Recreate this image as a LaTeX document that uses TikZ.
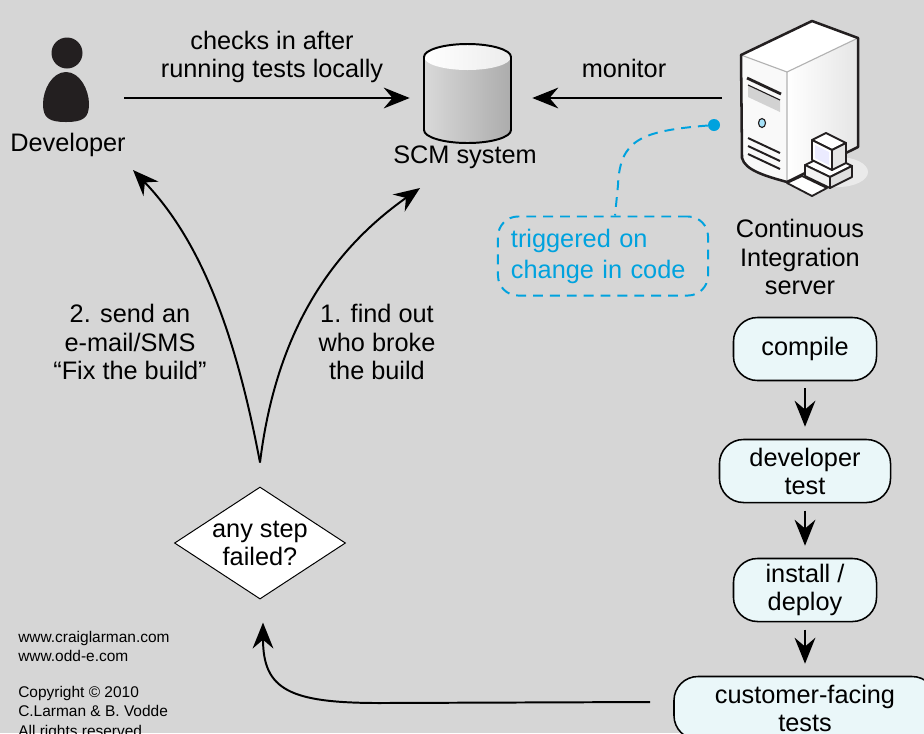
\documentclass[tikz,border=0pt]{standalone}
\usepackage{fontspec}
\setmainfont{Liberation Sans}
\usetikzlibrary{arrows.meta,shapes.geometric}
\definecolor{bg}{RGB}{214,214,214}
\definecolor{ink}{RGB}{35,31,32}
\definecolor{trigblue}{RGB}{0,162,222}
\definecolor{stepfill}{RGB}{234,247,249}
\tikzset{>={Stealth[length=0.65cm,width=0.52cm,inset=0.22cm]}}
\tikzset{
	link/.style={->, line width=1.4pt},
	stepbox/.style={draw, line width=1.1pt, fill=stepfill, rounded corners=0.6cm, minimum height=1.575cm, align=center},
	decision/.style={diamond, draw, fill=white, line width=0.7pt, aspect=1.53, minimum width=4.275cm, minimum height=2.8cm, inner sep=0pt, align=center},
	note/.style={draw=trigblue, text=trigblue, line width=1.4pt, dash pattern=on 7pt off 5pt, rounded corners=0.5cm, align=left, inner xsep=0.325cm, font=\fontsize{18}{22}\selectfont},
}

\begin{document}
\begin{tikzpicture}[x=0.025cm, y=-0.025cm, font=\fontsize{18}{20}\selectfont]
	\fill [bg] (0,0) rectangle (924,733);
	\useasboundingbox (0,0) rectangle (924,733);

	% developer
	\fill [ink] (67,53) circle [radius=15.5];
	\fill [ink] (66,72) .. controls (80,72) and (89,90) .. (89,104) .. controls (89,118) and (83,122) .. (66,122) .. controls (49,122) and (43,118) .. (43,104) .. controls (43,90) and (52,72) .. (66,72) -- cycle;
	\node (dev) [minimum width=2.9cm, minimum height=2cm] at (66,98) {};
	\node (devlabel) at (68,145) {Developer};

	% SCM cylinder
	\shade [left color=gray!30, middle color=white, right color=gray!65] (424,57) -- (424,130) arc (180:0:43.5 and 13) -- (511,57) arc (0:-180:43.5 and 13) -- cycle;
	\shade [left color=white, right color=gray!15] (467.5,57) ellipse [x radius=43.5, y radius=13];
	\draw [line width=1.4pt] (424,57) -- (424,130) arc (180:0:43.5 and 13) -- (511,57) arc (0:-180:43.5 and 13) -- cycle;
	\node (scm) [minimum width=3.05cm, minimum height=2.5cm] at (471,98) {};
	\node (scmlabel) at (465,157) {SCM system};

	% CI server
	\fill [white, opacity=0.5] (838,172) ellipse [x radius=30, y radius=15];
	\fill [white] (741,55) -- (787,72) -- (858,38) -- (812,21) -- cycle;
	\shade [left color=white, right color=gray!20] (787,72) -- (858,38) -- (858,147) -- (787,182) -- cycle;
	\fill [gray!5] (741,55) -- (787,72) -- (787,182) .. controls (765,176) and (745,170) .. (742,158) -- cycle;
	\draw [gray!60, line width=0.8pt] (741,55) -- (787,72) -- (858,38) (787,72) -- (787,182);
	\draw [ink, line width=1.8pt, line join=round] (741,55) -- (812,21) -- (858,38) -- (858,147) -- (787,182) .. controls (765,176) and (745,170) .. (742,158) -- cycle;
	\draw [ink, line width=2pt] (747,78) -- (781,94);
	\fill [gray!35] (748,85) -- (780,100) -- (780,112) -- (748,97) -- cycle;
	\draw [ink, line width=0.8pt] (748,85) -- (780,100);
	\filldraw [fill=cyan!35, draw=ink, line width=0.8pt] (762,123) ellipse [x radius=3.5, y radius=4.5];
	\draw [ink, line width=1.4pt] (748,138) -- (780,153);
	\draw [ink, line width=1.4pt] (748,146) -- (780,161);
	\draw [ink, line width=1.4pt] (748,154) -- (780,169);
	\filldraw [fill=white, draw=ink, line width=1.3pt, line join=round] (805,165) -- (828,154) -- (852,166) -- (830,177) -- cycle;
	\filldraw [fill=gray!10, draw=ink, line width=1.3pt, line join=round] (805,165) -- (830,177) -- (830,188) -- (805,176) -- cycle;
	\filldraw [fill=gray!25, draw=ink, line width=1.3pt, line join=round] (830,177) -- (852,166) -- (852,177) -- (830,188) -- cycle;
	\filldraw [fill=white, draw=ink, line width=1.3pt, line join=round] (812,140) -- (826,133) -- (846,143) -- (832,150) -- cycle;
	\filldraw [fill=gray!20, draw=ink, line width=1.3pt, line join=round] (832,150) -- (846,143) -- (846,163) -- (832,170) -- cycle;
	\filldraw [fill=white, draw=ink, line width=1.3pt, line join=round] (812,140) -- (832,150) -- (832,170) -- (812,160) -- cycle;
	\fill [blue!8] (815,145) -- (829,152) -- (829,165) -- (815,158) -- cycle;
	\filldraw [fill=white, draw=ink, line width=1.3pt, line join=round] (787,183) -- (802,176) -- (827,188) -- (812,196) -- cycle;
	\node (ci) [minimum width=3.85cm, minimum height=3cm] at (799,98) {};
	\node (cilabel) at (800,257) [align=center, font=\fontsize{18}{20.5}\selectfont] {Continuous\\Integration\\server};

	\draw [link] (dev.east) -- (scm.west);
	\node (checkin) at (272,57) [align=center] {checks in after\\running tests locally};
	\draw [link] (ci.west) -- (scm.east);
	\node (monitorlabel) at (624,68) {monitor};

	% trigger note
	\node (hook) [circle, fill=trigblue, inner sep=0pt, minimum size=0.3cm] at (714,125) {};
	\node (trigger) [note, minimum width=5.25cm, minimum height=1.975cm, text width=4.6cm] at (603,256) {triggered on\\change in code};
	\draw [trigblue, line width=1.4pt, dash pattern=on 7pt off 5pt] (hook) .. controls (640,131) and (620,140) .. (618,185) -- ([xshift=0.3cm]trigger.north);

	% build steps
	\node (compile) [stepbox, minimum width=3.575cm] at (805,349) {compile};
	\node (devtest) [stepbox, minimum width=4.275cm] at (805,471) {developer\\test};
	\node (deploy) [stepbox, minimum width=3.575cm] at (805,590) {install /\\deploy};
	\node (custtests) [stepbox, minimum width=6.55cm] at (805,708) {customer-facing\\tests};
	\draw [link, shorten <=0.18cm, shorten >=0.3cm] (compile) -- (devtest);
	\draw [link, shorten <=0.18cm, shorten >=0.3cm] (devtest) -- (deploy);
	\draw [link, shorten <=0.18cm, shorten >=0.3cm] (deploy) -- (custtests);

	% failure handling
	\node (failed) [decision] at (260,543) {any step\\failed?};
	\coordinate (reply) at (133,170);
	\coordinate (lookup) at (420,188);
	\draw [link] ([yshift=0.6cm]failed.north) .. controls (235,330) and (200,240) .. (reply);
	\draw [link] ([yshift=0.6cm]failed.north) .. controls (275,340) and (325,255) .. (lookup);
	\node (notify) at (130,342) [align=center] {2. send an\\e-mail/SMS\\“Fix the build”};
	\node (blame) at (377,342) [align=center] {1. find out\\who broke\\the build};
	\draw [link] ([xshift=-0.575cm, yshift=0.15cm]custtests.west) -- (380,703) .. controls (290,703) and (263,690) .. ([xshift=0.075cm, yshift=-0.575cm]failed.south);

	\node (credits) [anchor=north west, align=left, inner sep=0pt, font=\fontsize{11}{13.8}\selectfont] at (18,631) {www.craiglarman.com\\www.odd-e.com\\[11.5pt]Copyright © 2010\\C.Larman \& B. Vodde\\All rights reserved};
\end{tikzpicture}
\end{document}
